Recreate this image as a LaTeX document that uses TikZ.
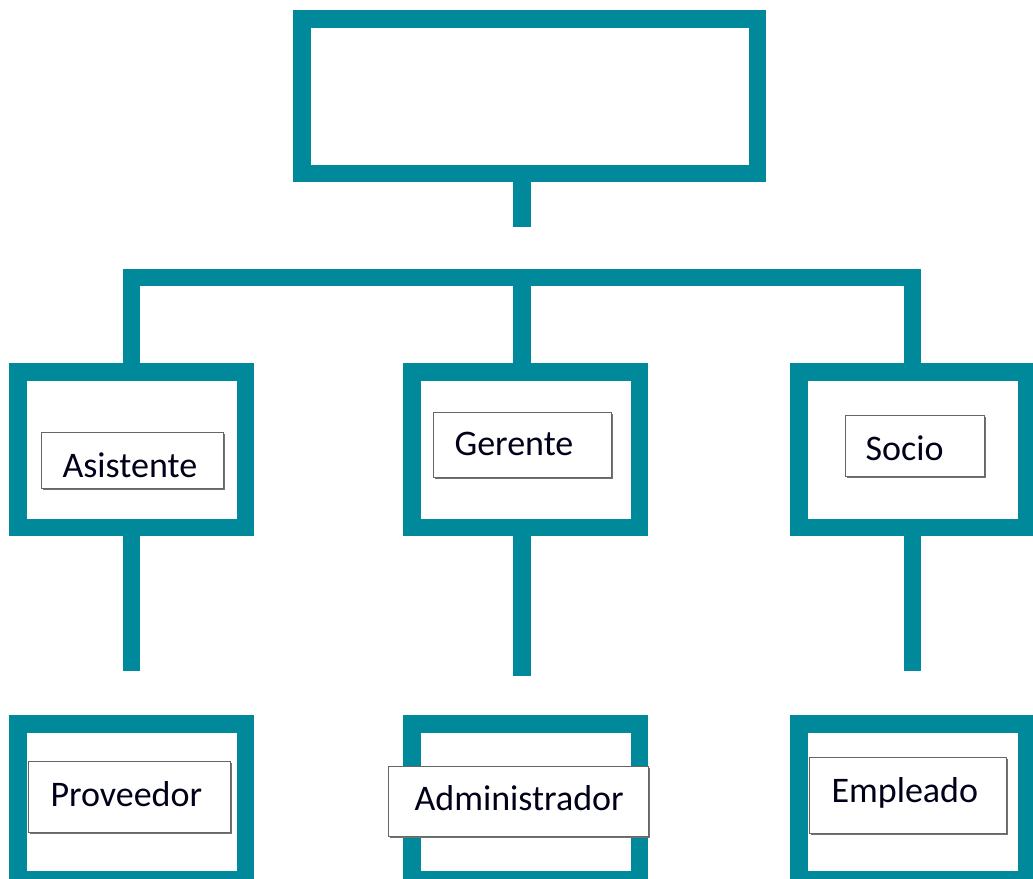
\documentclass[tikz,border=0pt]{standalone}
\usepackage{fontspec}
\setmainfont{Carlito}
\usetikzlibrary{shadows}
\definecolor{teal1}{RGB}{0,137,155}
\begin{document}
\begin{tikzpicture}[x=1pt,y=-1pt,
  frame/.style={draw=teal1, line width=17.5pt, fill=white, minimum width=227.5pt, minimum height=155.5pt, inner sep=0pt, outer sep=0pt},
  topframe/.style={frame, minimum width=455.5pt, minimum height=154.5pt},
  link/.style={draw=teal1, line width=17.5pt, line join=miter},
  tag/.style={draw=black!60, line width=1.1pt, fill=white, anchor=north west, align=left, inner ysep=0pt, text=black!90!blue,
    font=\fontsize{36}{43}\selectfont,
    drop shadow={shadow xshift=1.6pt, shadow yshift=-1.6pt, fill=black!55, opacity=1}},
]
\useasboundingbox (0,0) rectangle (1033,878);
\clip (0,0) rectangle (1033,878);

% frames
\node[topframe] (top) at (529.5,96) {};
\node[frame] (m1) at (131.5,449.5) {};
\node[frame] (m2) at (525.5,449.5) {};
\node[frame] (m3) at (912.5,449.5) {};
\node[frame] (b1) at (131.5,801.5) {};
\node[frame] (b2) at (525.5,801.5) {};
\node[frame] (b3) at (912.5,801.5) {};

% free ends
\coordinate (stem) at (522,226.5);
\coordinate (j1) at (131.5,277.5);
\coordinate (j2) at (522,277.5);
\coordinate (j3) at (912.5,277.5);
\coordinate (e1) at (131.7,671);
\coordinate (e2) at (522,676);
\coordinate (e3) at (912.5,671);

% connectors
\draw[link] (top.south -| stem) -- (stem);
\draw[link] (m1.north) -- (j1) -- (j3) -- (m3.north);
\draw[link] (j2) -- (m2.north -| j2);
\draw[link] (m1.south -| e1) -- (e1);
\draw[link] (m2.south -| e2) -- (e2);
\draw[link] (m3.south -| e3) -- (e3);

% redraw frames on top of connector ends
\node[frame, fill=none] at (m1) {};
\node[frame, fill=none] at (m2) {};
\node[frame, fill=none] at (m3) {};

% labels
\node[tag, inner xsep=21pt, text width=140pt, text height=45pt, text depth=11pt] (asis) at (41,432) {Asistente};
\node[tag, inner xsep=21pt, text width=136pt, text height=43pt, text depth=22pt] (ger) at (433,412) {Gerente};
\node[tag, inner xsep=20pt, text width=99pt, text height=45pt, text depth=16pt] (soc) at (845,415) {Socio};
\node[tag, inner xsep=22pt, text width=158pt, text height=45pt, text depth=26pt] (prov) at (28,761) {Proveedor};
\node[tag, inner xsep=26pt, text width=208pt, text height=44pt, text depth=26pt] (adm) at (388,766) {Administrador};
\node[tag, inner xsep=22pt, text width=153pt, text height=45pt, text depth=31pt] (emp) at (809,757) {Empleado};
\end{tikzpicture}
\end{document}
